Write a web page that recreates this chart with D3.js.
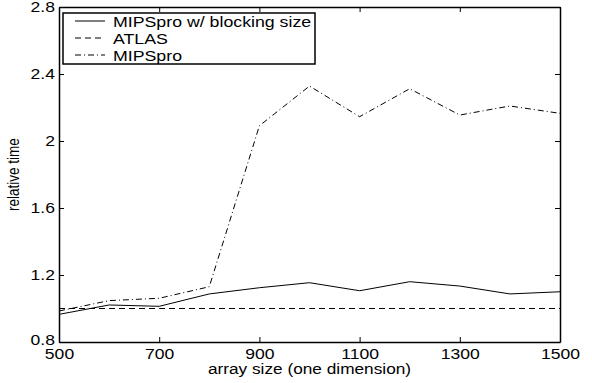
<!DOCTYPE html>
<html lang="en">
<head>
    <meta charset="UTF-8">
    <title>Relative time vs array size</title>
    <script src="https://cdnjs.cloudflare.com/ajax/libs/d3/7.8.5/d3.min.js"></script>
    <style>
        body {
            margin: 0;
            background: #fff;
        }
        svg {
            display: block;
            font-family: "Liberation Sans", Arial, sans-serif;
        }
    </style>
</head>
<body>
    <svg id="chart" width="592" height="383"></svg>

    <script>
        // Data
        const sizes = [500, 600, 700, 800, 900, 1000, 1100, 1200, 1300, 1400, 1500];
        const blocking = [0.965, 1.021, 1.013, 1.087, 1.124, 1.154, 1.106, 1.160, 1.134, 1.087, 1.100];
        const atlas = [1.0, 1.0, 1.0, 1.0, 1.0, 1.0, 1.0, 1.0, 1.0, 1.0, 1.0];
        const mipspro = [0.985, 1.047, 1.061, 1.130, 2.091, 2.328, 2.145, 2.312, 2.155, 2.209, 2.165];

        const xTicks = [500, 700, 900, 1100, 1300, 1500];
        const yTicks = [0.8, 1.2, 1.6, 2.0, 2.4, 2.8];
        const seriesNames = ["MIPSpro w/ blocking size", "ATLAS", "MIPSpro"];
        const dashes = [null, "6,4", "6,3,1,3"];

        const svg = d3.select("#chart");
        const margin = {left: 59, right: 32, top: 7, bottom: 41};
        const width = 592 - margin.left - margin.right;
        const height = 383 - margin.top - margin.bottom;

        // the original lettering is a bit wider than it is tall
        const stretch = 1.17;

        const x = d3.scaleLinear().domain([500, 1500]).range([0, width]);
        const y = d3.scaleLinear().domain([0.8, 2.8]).range([height, 0]);

        const g = svg.append("g")
            .attr("transform", `translate(${margin.left},${margin.top})`);

        // axes with inward ticks, mirrored on top and right
        const fmt = d => String(+d.toFixed(1));
        g.append("g")
            .attr("transform", `translate(0,${height})`)
            .call(d3.axisBottom(x).tickValues(xTicks).tickFormat(d3.format("d"))
                .tickSizeInner(-5).tickSizeOuter(0).tickPadding(6));
        const yAxis = g.append("g")
            .call(d3.axisLeft(y).tickValues(yTicks).tickFormat(fmt)
                .tickSizeInner(-5).tickSizeOuter(0).tickPadding(3.5));
        g.append("g")
            .call(d3.axisTop(x).tickValues(xTicks).tickSizeInner(-5).tickSizeOuter(0).tickFormat(""));
        g.append("g")
            .attr("transform", `translate(${width},0)`)
            .call(d3.axisRight(y).tickValues(yTicks).tickSizeInner(-5).tickSizeOuter(0).tickFormat(""));

        g.selectAll(".domain").attr("stroke", "#000").attr("stroke-width", 1.5);
        g.selectAll(".tick line").attr("stroke", "#000").attr("stroke-width", 1);
        g.selectAll(".tick text").attr("fill", "#000").attr("font-size", "15px")
            .attr("font-family", "Liberation Sans, Arial, sans-serif")
            .attr("transform", `scale(${stretch},1)`);
        // lift the corner label a touch so it clears "500"
        yAxis.selectAll(".tick text").filter(d => d === 0.8).attr("y", -2);

        // lines
        const seriesData = [blocking, atlas, mipspro];
        const line = d3.line()
            .x((d, i) => x(sizes[i]))
            .y(d => y(d));

        seriesData.forEach((vals, k) => {
            g.append("path")
                .datum(vals)
                .attr("fill", "none")
                .attr("stroke", "#000")
                .attr("stroke-width", 1)
                .attr("stroke-dasharray", dashes[k])
                .attr("d", line);
        });

        // legend
        const legend = svg.append("g").attr("transform", "translate(63,13)");
        legend.append("rect")
            .attr("width", 252)
            .attr("height", 51)
            .attr("fill", "#fff")
            .attr("stroke", "#000")
            .attr("stroke-width", 1.5);
        seriesNames.forEach((name, k) => {
            const ly = 8 + k * 17;
            legend.append("line")
                .attr("x1", 12).attr("x2", 42)
                .attr("y1", ly).attr("y2", ly)
                .attr("stroke", "#000")
                .attr("stroke-width", 1)
                .attr("stroke-dasharray", dashes[k]);
            legend.append("text")
                .attr("transform", `translate(50,${ly + 5.5}) scale(1.2,1)`)
                .attr("font-size", "14.8px")
                .text(name);
        });

        // axis titles
        svg.append("text")
            .attr("transform", `translate(${margin.left + width / 2},374) scale(1.15,1)`)
            .attr("text-anchor", "middle")
            .attr("font-size", "15px")
            .text("array size (one dimension)");
        svg.append("text")
            .attr("transform", `translate(19,${margin.top + height / 2}) scale(${stretch},1) rotate(-90)`)
            .attr("text-anchor", "middle")
            .attr("font-size", "13.5px")
            .text("relative time");
    </script>
</body>
</html>
